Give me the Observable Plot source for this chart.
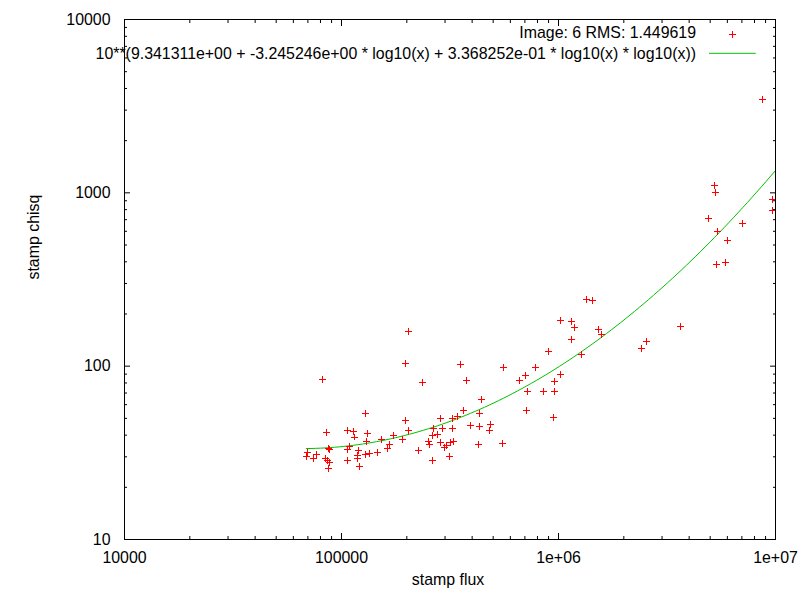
<!DOCTYPE html>
<html><head><meta charset="utf-8">
<script src="https://cdn.jsdelivr.net/npm/d3@7"></script>
<script src="https://cdn.jsdelivr.net/npm/@observablehq/plot@0.6"></script>
<style>body{margin:0;background:#fff}</style>
</head><body><div id="chart"></div>
<script>
// stamp flux (x) and stamp chisq (y)
const flux = [69500,68800,74100,76400,81500,85000,86800,87800,84100,85900,87800,86800,
  106200,113200,114400,131300,130000,106200,108500,119400,118100,118100,106200,120700,
  128600,134200,128600,146100,152400,162400,165900,173100,190400,196600,203000,225600,
  250900,253600,261800,264600,276100,261800,285000,291100,285000,297300,303700,316800,
  323600,323600,313500,341300,327100,203000,196600,235400,352400,375600,363800,431100,
  440400,391900,431100,484500,479400,426600,550300,556200,659000,702300,717300,709800,
  780900,850500,896700,955400,955400,945500,1018000,1018000,1144000,1181000,1144000,1272000,
  1341000,1430000,1524000,1573000,3637000,2536000,2405000,5219000,5274000,4897000,5386000,
  7023000,5990000,5330000,5864000,8683000,9656000,9656000];
const chisq = [31.8,30.2,29.4,31.0,84.1,41.6,33.6,33.2,29.4,28.7,27.9,25.7,
  42.7,42.1,39.0,41.0,36.9,33.2,34.5,32.7,30.6,29.4,28.7,26.4,
  31.0,31.4,53.5,31.8,37.8,33.6,35.5,40.0,37.8,48.7,42.7,32.7,
  36.9,35.5,40.0,43.8,40.5,28.7,50.0,43.8,36.4,34.1,35.0,36.4,
  43.8,50.0,30.2,51.4,36.9,159,104,80.8,102.6,82.9,55.6,53.5,
  64.5,45.7,45.1,46.3,42.7,35.5,35.9,98.6,82.9,88.7,71.7,55.6,
  98.6,71.7,121.9,71.7,81.9,50.7,89.8,184,181.6,167.8,143,117.2,
  243,240,163.3,152.9,169.9,139.2,126.9,1107,1008,714,600,
  667,533,386,398,3468,918,793];
const fitCoefficients = [9.341311, -3.245246, 0.3368252];
const legendLabels = ["Image: 6 RMS: 1.449619",
  "10**(9.341311e+00 + -3.245246e+00 * log10(x) + 3.368252e-01 * log10(x) * log10(x))"];
const xMajorTicks = [1e4, 1e5, 1e6, 1e7];
const xTickLabels = ["10000", "100000", "1e+06", "1e+07"];
const xMinorTicks = [2e4,3e4,4e4,5e4,6e4,7e4,8e4,9e4,2e5,3e5,4e5,5e5,6e5,7e5,8e5,9e5,2e6,3e6,4e6,5e6,6e6,7e6,8e6,9e6];
const yMajorTicks = [10, 100, 1000, 10000];
const yTickLabels = ["10", "100", "1000", "10000"];
const yMinorTicks = [20,30,40,50,60,70,80,90,200,300,400,500,600,700,800,900,2000,3000,4000,5000,6000,7000,8000,9000];
const xLabel = "stamp flux";
const yLabel = "stamp chisq";

const FONT = "Liberation Sans";
const FS = 15.9;
const points = flux.map((f, i) => ({flux: f, chisq: chisq[i]}));
const fitFn = x => { const l = Math.log10(x); return Math.pow(10, fitCoefficients[0] + fitCoefficients[1]*l + fitCoefficients[2]*l*l); };
const lo = d3.min(flux), hi = 1e7;
const fitLine = d3.range(101).map(i => { const x = lo * Math.pow(hi/lo, i/100); return {flux: x, chisq: fitFn(x)}; });

const gnuplotPlus = {draw(ctx, size) { const h = Math.sqrt(size/Math.PI); ctx.moveTo(-h,0); ctx.lineTo(h,0); ctx.moveTo(0,-h); ctx.lineTo(0,h); }};

function legend(index, scales, values, dims) {
  const right = dims.width - dims.marginRight, top = dims.marginTop;
  const g = d3.create("svg:g").attr("font-family", FONT).attr("font-size", FS).attr("fill", "#000");
  legendLabels.forEach((t, i) => {
    g.append("text").attr("x", right - 79).attr("y", top + 13.7 + i*20.6).attr("dy", "0.35em")
      .attr("text-anchor", "end").text(t);
  });
  g.append("path").attr("d", `M${right-46.5},${top+15.7}h7M${right-43},${top+12.2}v7`)
    .attr("stroke", "red").attr("fill", "none").attr("shape-rendering", "crispEdges");
  g.append("line").attr("x1", right-66).attr("x2", right-19.3).attr("y1", top+34.3).attr("y2", top+34.3)
    .attr("stroke", "#00c000");
  return g.node();
}

const chart = Plot.plot({
  width: 800, height: 600,
  marginLeft: 124, marginRight: 25, marginTop: 19, marginBottom: 61,
  style: {fontFamily: FONT, fontSize: FS + "px", background: "#fff", color: "#000"},
  x: {type: "log", domain: [1e4, 1e7]},
  y: {type: "log", domain: [10, 1e4]},
  marks: [
    Plot.axisX(xMajorTicks, {anchor: "bottom", tickSize: -6, tickFormat: () => "", label: null}),
    Plot.axisX(xMajorTicks, {anchor: "top", tickSize: -6, tickFormat: () => "", label: null}),
    Plot.axisX(xMinorTicks, {anchor: "bottom", tickSize: -3, tickFormat: () => "", label: null}),
    Plot.axisX(xMinorTicks, {anchor: "top", tickSize: -3, tickFormat: () => "", label: null}),
    Plot.axisY(yMajorTicks, {anchor: "left", tickSize: -6, tickFormat: () => "", label: null}),
    Plot.axisY(yMajorTicks, {anchor: "right", tickSize: -6, tickFormat: () => "", label: null}),
    Plot.axisY(yMinorTicks, {anchor: "left", tickSize: -3, tickFormat: () => "", label: null}),
    Plot.axisY(yMinorTicks, {anchor: "right", tickSize: -3, tickFormat: () => "", label: null}),
    Plot.axisX(xMajorTicks, {anchor: "bottom", tickSize: 0, tickPadding: 12, tickFormat: (d) => xTickLabels[xMajorTicks.indexOf(d)], label: null, fontSize: FS}),
    Plot.axisY(yMajorTicks, {anchor: "left", tickSize: 0, tickPadding: 14, tickFormat: (d) => yTickLabels[yMajorTicks.indexOf(d)], label: null, fontSize: FS}),
    Plot.text([xLabel], {frameAnchor: "bottom", dy: 45, dx: -2, text: d => d, fontSize: FS}),
    Plot.text([yLabel], {frameAnchor: "left", dx: -91, rotate: -90, text: d => d, fontSize: FS}),
    Plot.line(fitLine, {x: "flux", y: "chisq", stroke: "#00c000", strokeWidth: 1}),
    Plot.dot(points, {x: "flux", y: "chisq", symbol: gnuplotPlus, r: 3.4, stroke: "red", fill: "none", strokeWidth: 1, shapeRendering: "crispEdges", clip: true}),
    Plot.frame({stroke: "#000", shapeRendering: "crispEdges"}),
    legend
  ]
});
document.getElementById("chart").appendChild(chart);
</script>
</body></html>
